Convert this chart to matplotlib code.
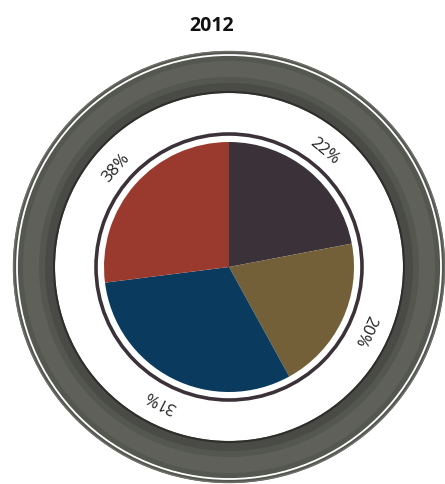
import numpy as np
import matplotlib.pyplot as plt
from matplotlib.patches import Circle, Wedge

# slice sizes as drawn, and the printed labels (source label for the red slice says 38%)
categories = ["A", "B", "C", "D"]
sizes = [22, 20, 31, 27]
labels = ["22%", "20%", "31%", "38%"]
colors = ["#3b3239", "#735f38", "#0a3b5e", "#9a3a2f"]
title = "2012"

W, H = 445, 484
cx, cy = 229, H - 267

fig = plt.figure(figsize=(W / 100, H / 100), dpi=100)
ax = fig.add_axes([0, 0, 1, 1])

# stone-like outer ring (approximated with flat grey bands)
ax.add_patch(Wedge((cx, cy), 216, 0, 360, width=42, facecolor="#545650", edgecolor="none"))
ax.add_patch(Wedge((cx, cy), 206, 0, 360, width=16, facecolor="#5f605a", edgecolor="none"))
ax.add_patch(Wedge((cx, cy), 184, 0, 360, width=8, facecolor="#4a4b46", edgecolor="none"))
ax.add_patch(Circle((cx, cy), 175, facecolor="none", edgecolor="#2e2e2b", lw=1.5))
ax.add_patch(Circle((cx, cy), 215.5, facecolor="none", edgecolor="#6f706a", lw=1.0))
ax.add_patch(Circle((cx, cy), 212, facecolor="none", edgecolor="white", lw=1.3))

# the pie
wedges, _ = ax.pie(sizes, colors=colors, startangle=90, counterclock=False,
                   center=(cx, cy), radius=125, wedgeprops=dict(linewidth=0))

# dark ring around the pie
ax.add_patch(Circle((cx, cy), 133, facecolor="none", edgecolor="#3b3239", lw=2.6))

# labels rotated along the ring
for w, lab in zip(wedges, labels):
    mid = (w.theta1 + w.theta2) / 2
    r = 150
    x = cx + r * np.cos(np.radians(mid))
    y = cy + r * np.sin(np.radians(mid))
    ax.text(x, y, lab, rotation=mid - 90, rotation_mode="anchor",
            ha="center", va="center", fontsize=12, color="#231f20",
            family="Open Sans")

ax.text(212, H - 26, title, ha="center", va="center", fontsize=14,
        fontweight="bold", color="#111111", family="Open Sans")

ax.set_xlim(0, W)
ax.set_ylim(0, H)
ax.set_aspect("equal")
ax.axis("off")

plt.savefig("out.png", dpi=100)
